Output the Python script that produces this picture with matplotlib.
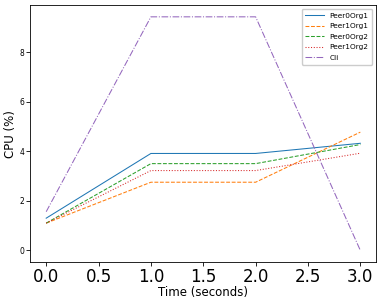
import numpy as np
import matplotlib
matplotlib.use("Agg")
import matplotlib.pyplot as plt

times = [0, 1, 2, 3]
peer0org1 = [1.30, 3.91, 3.91, 4.32]
peer1org1 = [1.10, 2.75, 2.75, 4.77]
peer0org2 = [1.10, 3.50, 3.50, 4.27]
peer1org2 = [1.10, 3.22, 3.22, 3.92]
cli = [1.56, 9.42, 9.42, 0.0]

series = [
    ("Peer0Org1", peer0org1, "-"),
    ("Peer1Org1", peer1org1, "--"),
    ("Peer0Org2", peer0org2, "--"),
    ("Peer1Org2", peer1org2, ":"),
    ("Cli", cli, "-."),
]

fig = plt.figure(figsize=(3.81, 3.03), dpi=100)
ax = fig.add_axes([0.080, 0.135, 0.907, 0.848])

for name, vals, style in series:
    ax.plot(times, vals, style, label=name, linewidth=0.75)

ax.set_xticks([0.0, 0.5, 1.0, 1.5, 2.0, 2.5, 3.0])
ax.tick_params(axis="x", labelsize=12, width=0.6, length=3, pad=1)
ax.tick_params(axis="y", labelsize=5.5, width=0.6, length=3, pad=1.5)
ax.set_xlabel("Time (seconds)", fontsize=8.5, labelpad=0)
ax.set_ylabel("CPU (%)", fontsize=8.5, labelpad=2)
for s in ax.spines.values():
    s.set_linewidth(0.6)

ax.legend(loc="upper right", fontsize=5.3, handlelength=2.5, borderpad=0.5,
          labelspacing=0.6, framealpha=1, edgecolor="#cccccc")

fig.savefig("out.png", dpi=100)
